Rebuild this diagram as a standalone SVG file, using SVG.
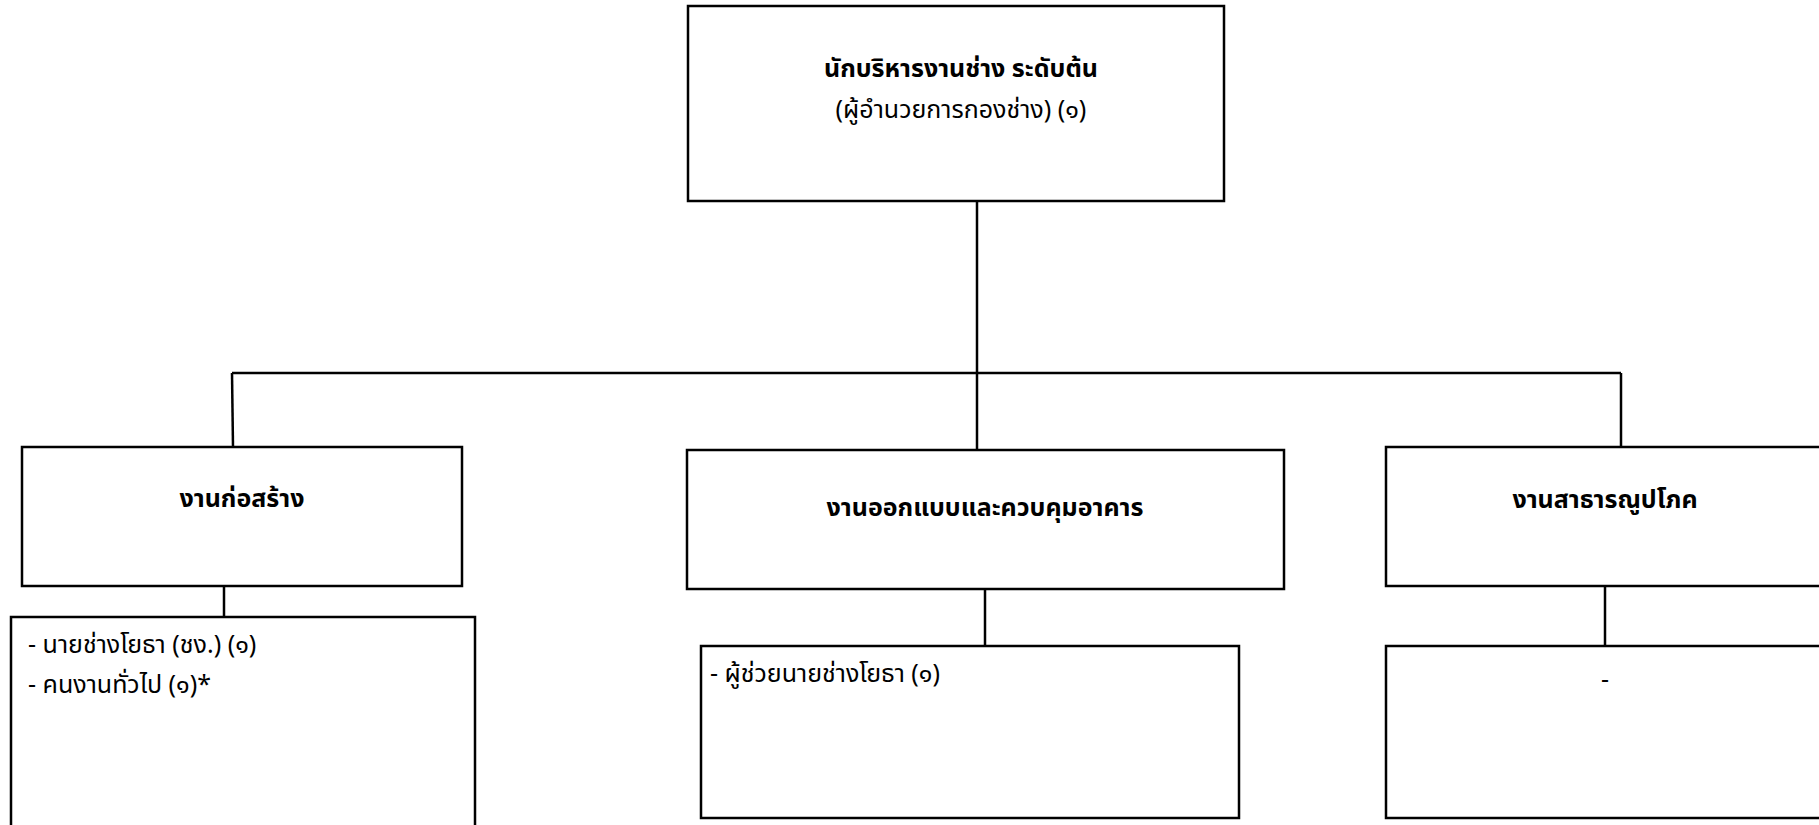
<svg xmlns="http://www.w3.org/2000/svg" width="1819" height="825" viewBox="0 0 1819 825">
<style>
.box{fill:#fff;stroke:#000;stroke-width:2.5}
.ln{stroke:#000;stroke-width:2.5;fill:none}
text{font-family:"Noto Sans Thai","Noto Sans","DejaVu Sans",sans-serif;font-size:25px;fill:#000}
.b{font-weight:bold}
.c{text-anchor:middle}
</style>
<rect width="1819" height="825" fill="#fff"/>
<g id="connectors">
<line class="ln" x1="977" y1="201" x2="977" y2="450"/>
<line class="ln" x1="232" y1="373" x2="1621" y2="373"/>
<line class="ln" x1="232" y1="373" x2="233" y2="447"/>
<line class="ln" x1="1621" y1="373" x2="1621" y2="449"/>
<line class="ln" x1="224" y1="586" x2="224" y2="617"/>
<line class="ln" x1="985" y1="589" x2="985" y2="646"/>
<line class="ln" x1="1605" y1="586" x2="1605" y2="646"/>
</g>
<g id="top">
<rect class="box" x="688" y="6" width="536" height="195"/>
<text class="b c" x="961" y="77">นักบริหารงานช่าง ระดับต้น</text>
<text class="c" x="961" y="118">(ผู้อำนวยการกองช่าง) (๑)</text>
</g>
<g id="construction">
<rect class="box" x="22" y="447" width="440" height="139"/>
<text class="b c" x="242" y="507">งานก่อสร้าง</text>
</g>
<g id="construction-staff">
<rect class="box" x="11" y="617" width="464" height="230"/>
<text x="28" y="653">- นายช่างโยธา (ชง.) (๑)</text>
<text x="28" y="693">- คนงานทั่วไป (๑)*</text>
</g>
<g id="design">
<rect class="box" x="687" y="450" width="597" height="139"/>
<text class="b c" x="985" y="516">งานออกแบบและควบคุมอาคาร</text>
</g>
<g id="design-staff">
<rect class="box" x="701" y="646" width="538" height="172"/>
<text x="710" y="682">- ผู้ช่วยนายช่างโยธา (๑)</text>
</g>
<g id="utilities">
<rect class="box" x="1386" y="447" width="460" height="139"/>
<text class="b c" x="1605" y="508">งานสาธารณูปโภค</text>
</g>
<g id="utilities-staff">
<rect class="box" x="1386" y="646" width="460" height="172"/>
<text class="c" x="1605" y="688">-</text>
</g>
</svg>
